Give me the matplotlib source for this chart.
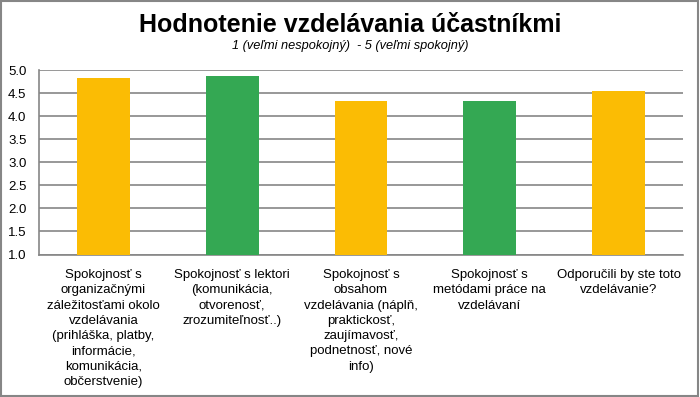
import numpy as np
import matplotlib
matplotlib.use("Agg")
from matplotlib import pyplot as plt

plt.rcParams['font.family'] = ['Liberation Sans', 'DejaVu Sans']

#%% datos
kategorie = ["Spokojnosť s\norganizačnými\nzáležitosťami okolo\nvzdelávania\n(prihláška, platby,\ninformácie,\nkomunikácia,\nobčerstvenie)",
             "Spokojnosť s lektori\n(komunikácia,\notvorenosť,\nzrozumiteľnosť..)",
             "Spokojnosť s\nobsahom\nvzdelávania (náplň,\npraktickosť,\nzaujímavosť,\npodnetnosť, nové\ninfo)",
             "Spokojnosť s\nmetódami práce na\nvzdelávaní",
             "Odporučili by ste toto\nvzdelávanie?"]
hodnoty = [4.84, 4.88, 4.34, 4.34, 4.55]
farby = ["#FBBC04", "#34A853", "#FBBC04", "#34A853", "#FBBC04"]
yticks = [1.0, 1.5, 2.0, 2.5, 3.0, 3.5, 4.0, 4.5, 5.0]

#%% figura
fig = plt.figure(figsize=(7, 3.97), dpi=100)
W, H = 700, 397
ax = fig.add_axes([39/W, 1-254.5/H, (683-39)/W, (254.5-70.5)/H])

x = np.arange(len(hodnoty))
ax.bar(x, np.array(hodnoty)-1, bottom=1, width=0.41, color=farby, zorder=3)

ax.set_ylim(1, 5)
ax.set_xlim(-0.5, len(hodnoty)-0.5)
ax.set_yticks(yticks)
ax.set_yticklabels(["%.1f" % v for v in yticks], fontsize=9.5)
ax.yaxis.grid(True, color="#868686", lw=1.2, zorder=0)
ax.tick_params(axis="y", length=0, pad=9)
ax.set_xticks([])
for s in ["top", "right"]:
    ax.spines[s].set_visible(False)
for s in ["left", "bottom"]:
    ax.spines[s].set_color("#868686")
    ax.spines[s].set_linewidth(1.2)

for i, t in enumerate(kategorie):
    ax.annotate(t, xy=(x[i], 1), xycoords="data", xytext=(0, -10.5), textcoords="offset points",
                ha="center", va="top", fontsize=9.5, linespacing=1.36)

fig.text(0.5, 1-25/H, "Hodnotenie vzdelávania účastníkmi", ha="center", va="center",
         fontsize=18, fontweight="bold")
fig.text(0.5, 1-46.5/H, "1 (veľmi nespokojný)  - 5 (veľmi spokojný)", ha="center", va="center",
         fontsize=9.2, style="italic")

# ramik okolo grafu
fig.patches.append(plt.Rectangle((0.002, 0.003), 0.995, 0.994, transform=fig.transFigure,
                                 fill=False, edgecolor="#868686", lw=1.5))

plt.savefig("out.png", dpi=100)
